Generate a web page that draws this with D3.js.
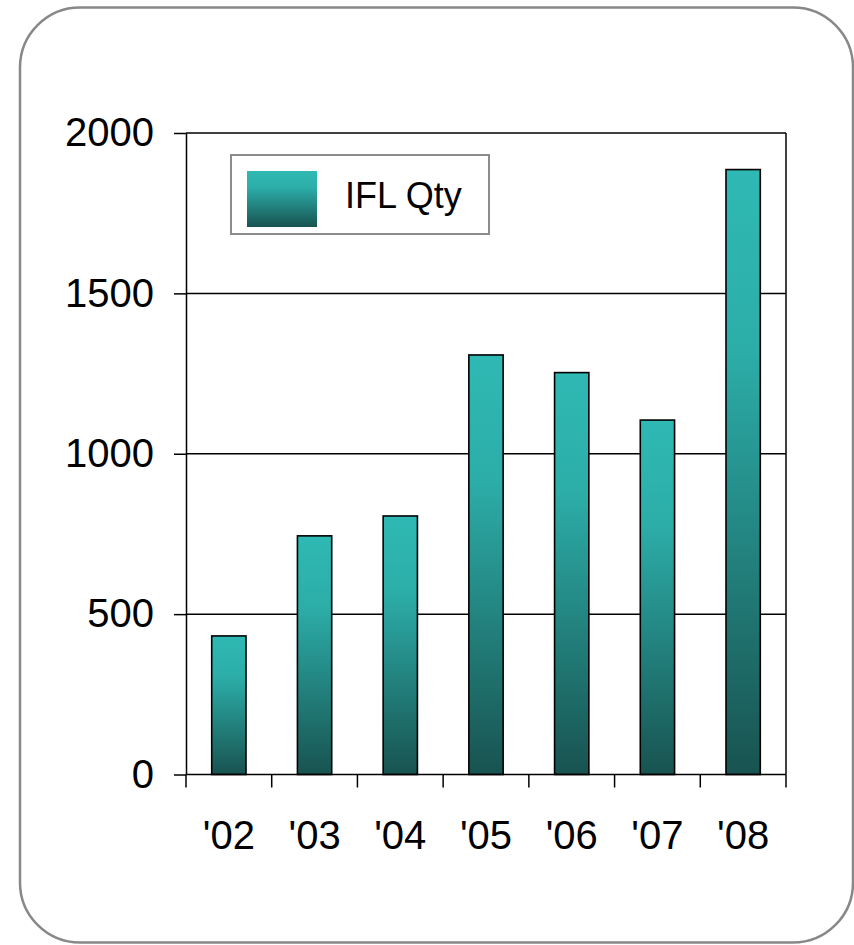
<!DOCTYPE html>
<html><head><meta charset="utf-8">
<script src="https://cdn.jsdelivr.net/npm/d3@7"></script>
<style>html,body{margin:0;padding:0;background:#fff;}svg{display:block;}</style>
</head><body>
<script>
const categories = ["'02","'03","'04","'05","'06","'07","'08"];
const values = [432, 744, 806, 1308, 1253, 1105, 1886];
const yTicks = [0, 500, 1000, 1500, 2000];
const seriesName = "IFL Qty";

(function(){
const W = 854, H = 945;
const font = "'Liberation Sans', Arial, Helvetica, sans-serif";
const svg = d3.select("body").append("svg").attr("width", W).attr("height", H);
const defs = svg.append("defs");
const grad = defs.append("linearGradient").attr("id","barGrad").attr("x1",0).attr("y1",0).attr("x2",0).attr("y2",1);
grad.append("stop").attr("offset","0%").attr("stop-color","#2fb9b4");
grad.append("stop").attr("offset","30%").attr("stop-color","#2cada8");
grad.append("stop").attr("offset","100%").attr("stop-color","#185350");

// outer rounded frame
svg.append("rect").attr("x",20).attr("y",7.5).attr("width",833).attr("height",935)
  .attr("rx",60).attr("ry",60).attr("fill","#fff").attr("stroke","#888").attr("stroke-width",2.5);

const pLeft = 186, pRight = 786, pTop = 133, pBottom = 774.5;
const x = d3.scaleBand().domain(categories).range([pLeft, pRight]).paddingInner(0.6).paddingOuter(0.3);
const y = d3.scaleLinear().domain([0, 2000]).range([pBottom, pTop]);

// grid lines
svg.append("g").selectAll("line").data(yTicks.filter(d=>d>0)).join("line")
  .attr("x1", pLeft).attr("x2", pRight).attr("y1", d=>y(d)).attr("y2", d=>y(d))
  .attr("stroke","#000").attr("stroke-width",1.5);
// right border
svg.append("line").attr("x1",pRight).attr("x2",pRight).attr("y1",pTop).attr("y2",pBottom)
  .attr("stroke","#000").attr("stroke-width",1.5);

// bars
svg.append("g").selectAll("rect").data(values).join("rect")
  .attr("x", (d,i)=>x(categories[i]))
  .attr("width", x.bandwidth())
  .attr("y", d=>y(d))
  .attr("height", d=>pBottom - y(d))
  .attr("fill","url(#barGrad)")
  .attr("stroke","#000").attr("stroke-width",1.6);

// y axis
const yAxis = d3.axisLeft(y).tickValues(yTicks).tickFormat(d3.format("d")).tickSize(12).tickPadding(20).tickSizeOuter(0);
const gy = svg.append("g").attr("transform",`translate(${pLeft},0)`).call(yAxis);
gy.select(".domain").attr("stroke","#000").attr("stroke-width",1.5);
gy.selectAll(".tick line").attr("stroke","#000").attr("stroke-width",1.5);
gy.selectAll(".tick text").attr("font-family",font).attr("font-size",40).attr("fill","#000");

// x axis
const xAxis = d3.axisBottom(x).tickSize(0).tickPadding(46).tickSizeOuter(0);
const gx = svg.append("g").attr("transform",`translate(0,${pBottom})`).call(xAxis);
gx.select(".domain").attr("stroke","#000").attr("stroke-width",1.5).attr("d",`M${pLeft},0H${pRight}`);
gx.selectAll(".tick text").attr("font-family",font).attr("font-size",40).attr("fill","#000");
// x boundary tick marks
const boundaries = d3.range(categories.length + 1).map(i => pLeft + i * (pRight - pLeft) / categories.length);
gx.append("g").selectAll("line").data(boundaries).join("line")
  .attr("x1", d=>d).attr("x2", d=>d).attr("y1",0).attr("y2",13)
  .attr("stroke","#000").attr("stroke-width",1.5);

// legend
const lg = svg.append("g");
lg.append("rect").attr("x",231).attr("y",155).attr("width",258).attr("height",79)
  .attr("fill","#fff").attr("stroke","#8c8c8c").attr("stroke-width",2);
lg.append("rect").attr("x",247).attr("y",171).attr("width",70).attr("height",56)
  .attr("fill","url(#barGrad)");
lg.append("text").attr("x",345).attr("y",208).text(seriesName)
  .attr("font-family",font).attr("font-size",36).attr("fill","#000");
})();
</script>
</body></html>
